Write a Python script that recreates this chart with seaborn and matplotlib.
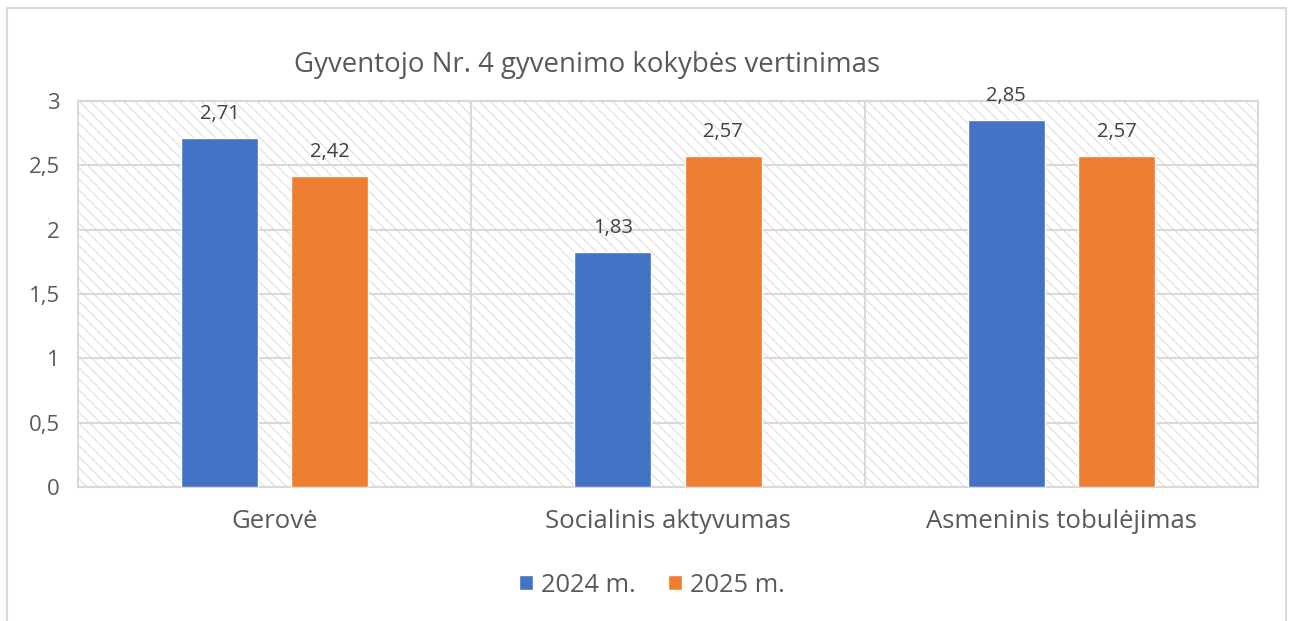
import matplotlib
matplotlib.use("Agg")
import matplotlib.pyplot as plt
from matplotlib.patches import Rectangle
import seaborn as sns
import pandas as pd

categories = ["Gerovė", "Socialinis aktyvumas", "Asmeninis tobulėjimas"]
series_names = ["2024 m.", "2025 m."]
values_2024 = [2.71, 1.83, 2.85]
values_2025 = [2.42, 2.57, 2.57]
y_ticks = [0, 0.5, 1, 1.5, 2, 2.5, 3]
y_tick_labels = ["0", "0,5", "1", "1,5", "2", "2,5", "3"]
title = "Gyventojo Nr. 4 gyvenimo kokybės vertinimas"

colors = ["#4472C4", "#ED7D31"]
text_grey = "#595959"
grid_grey = "#D9D9D9"

df = pd.DataFrame({
    "kategorija": categories * 2,
    "metai": [series_names[0]] * 3 + [series_names[1]] * 3,
    "reikšmė": values_2024 + values_2025,
})

sns.set_theme(style="white")
plt.rcParams["font.family"] = ["Open Sans", "DejaVu Sans"]
plt.rcParams["hatch.linewidth"] = 0.75

fig = plt.figure(figsize=(12.92, 6.21), dpi=100)
ax = fig.add_axes([78 / 1292, 1 - 487 / 621, 1180 / 1292, 386 / 621])

# light frame around the whole chart
fig.patches.append(Rectangle((7 / 1292, -0.05), 1279 / 1292, 1.05 - 8 / 621,
                             transform=fig.transFigure, fill=False,
                             edgecolor=grid_grey, linewidth=1.5))

# hatched plot background
ax.add_patch(Rectangle((0, 0), 1, 1, transform=ax.transAxes, facecolor="white",
                       edgecolor="#DCDCDC", linewidth=0, hatch="\\\\\\", zorder=0))

sns.barplot(data=df, x="kategorija", y="reikšmė", hue="metai",
            hue_order=series_names, palette=colors, width=0.56, gap=0.3,
            saturation=1, ax=ax, zorder=3, legend=True)

ax.set_xlim(-0.5, 2.5)
ax.set_ylim(0, 3)
ax.set_yticks(y_ticks)
ax.set_yticklabels(y_tick_labels)
ax.set_xlabel("")
ax.set_ylabel("")

# horizontal grid and category separators
for y in y_ticks:
    ax.axhline(y, color=grid_grey, linewidth=1.5, zorder=1)
for x in [0.5, 1.5]:
    ax.axvline(x, color=grid_grey, linewidth=1.5, zorder=1)
for s in ax.spines.values():
    s.set_color(grid_grey)
    s.set_linewidth(1.5)

ax.tick_params(axis="y", length=0, pad=13, labelsize=16, labelcolor=text_grey)
ax.tick_params(axis="x", length=0, pad=16, labelsize=18.5, labelcolor=text_grey)

for container in ax.containers:
    ax.bar_label(container, labels=[f"{v:.2f}".replace(".", ",") for v in container.datavalues],
                 padding=10, fontsize=14.5, color="#404040")

fig.text(587 / 1292, 1 - 65 / 621, title, ha="center", va="center",
         fontsize=19.9, color=text_grey)

leg = ax.legend(loc="center", bbox_to_anchor=(652 / 1292, 1 - 585 / 621),
                bbox_transform=fig.transFigure, ncol=2, frameon=False,
                fontsize=18.3, handlelength=0.55, handleheight=0.55,
                handletextpad=0.3, columnspacing=1.3)
for t in leg.get_texts():
    t.set_color(text_grey)

fig.savefig("out.png", dpi=100, facecolor="white")
